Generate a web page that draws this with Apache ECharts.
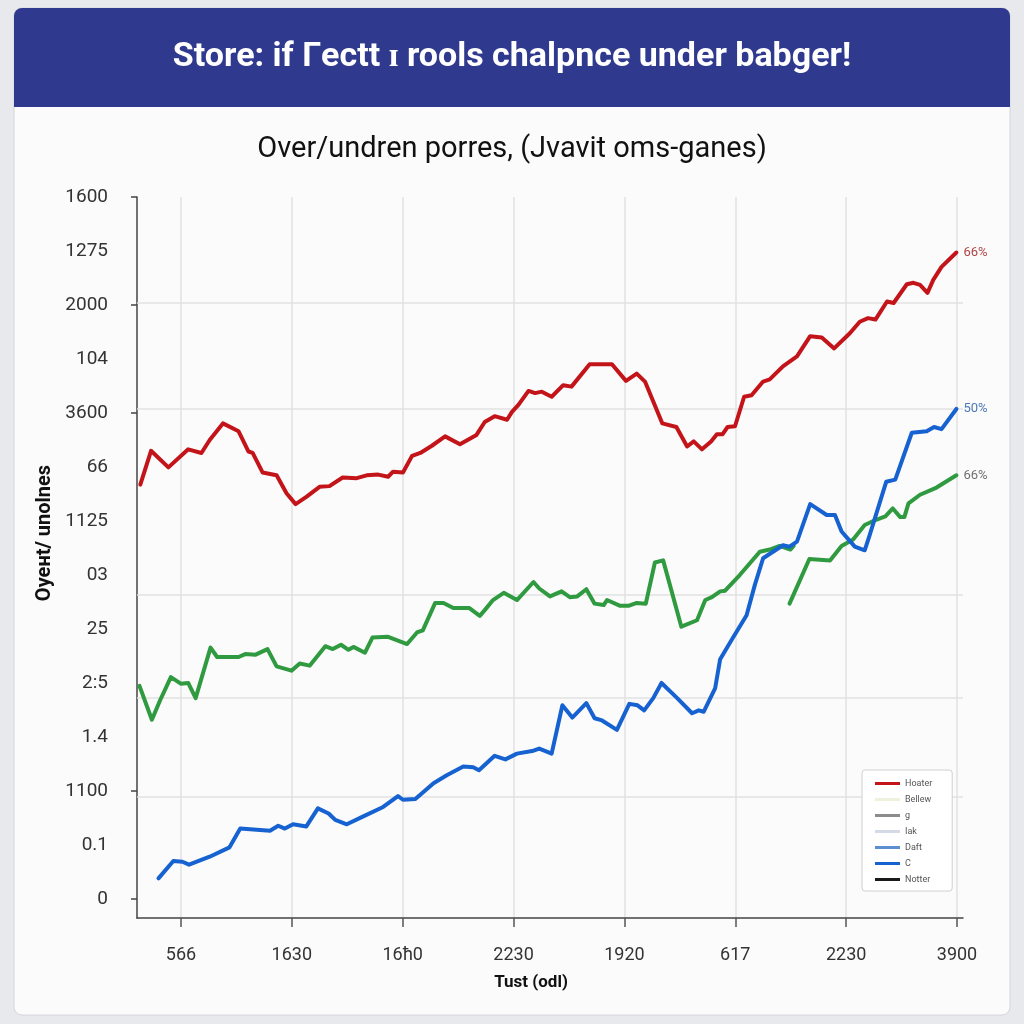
<!DOCTYPE html>
<html>
<head>
<meta charset="utf-8">
<script src="https://cdn.jsdelivr.net/npm/echarts@6/dist/echarts.min.js"></script>
<style>html,body{margin:0;padding:0;background:#e8e9ec;}#c{width:1024px;height:1024px;}</style>
</head>
<body>
<div id="c"></div>
<script>
const titleText = 'Store: if Гectt ɪ rools chalpnce under babger!';
const subtitleText = 'Over/undren porres, (Jvavit oms-ganes)';
const xAxisName = 'Tust (odl)';
const yAxisName = 'Oyeнt/ unolnes';
const xLabels = ['566','1630','16ħ0','2230','1920','617','2230','3900'];
const yLabels = ['0','0.1','1100','1.4','2:5','25','03','1125','66','3600','104','2000','1275','1600'];
const yTickShown = [0,2,9,11,13];
const gridValues = [85.4,70.6,44.8,30.5,16.8];
const legendNames = ['Hoater','Bellew','g','Iak','Daft','C','Notter'];
const endLabels = ['66%','50%','66%'];

const hoaterData = [[0.4,60.1],[1.7,64.8],[3.8,62.5],[6.2,65.0],[7.8,64.5],[8.8,66.3],[10.4,68.6],[12.3,67.5],[13.5,64.7],[14.0,64.5],[15.2,61.8],[16.9,61.4],[18.1,58.9],[19.2,57.4],[20.5,58.4],[22.1,59.8],[23.3,59.9],[24.9,61.1],[26.6,61.0],[27.8,61.4],[29.2,61.5],[30.4,61.2],[31.0,61.9],[32.2,61.8],[33.3,64.1],[34.3,64.5],[35.7,65.5],[37.3,66.8],[39.1,65.7],[41.1,67.0],[42.1,68.8],[43.3,69.6],[44.8,69.1],[45.4,70.2],[46.2,71.2],[47.4,73.1],[48.2,72.8],[49.0,73.0],[50.2,72.3],[51.6,73.9],[52.6,73.7],[54.8,76.8],[57.5,76.8],[59.2,74.5],[60.5,75.5],[61.5,74.4],[63.6,68.6],[65.3,68.1],[66.6,65.4],[67.4,66.1],[68.4,65.0],[69.5,66.1],[70.2,67.1],[70.9,67.1],[71.5,68.1],[72.4,68.2],[73.5,72.3],[74.4,72.5],[75.8,74.4],[76.6,74.7],[78.2,76.5],[79.9,77.9],[81.5,80.7],[82.9,80.5],[84.4,79.0],[86.3,81.1],[87.5,82.7],[88.5,83.2],[89.4,83.0],[90.8,85.5],[91.6,85.3],[93.2,87.9],[94.0,88.1],[94.8,87.8],[95.7,86.7],[96.4,88.5],[97.4,90.3],[99.2,92.3]];

const greenDataA = [[0.3,32.2],[1.8,27.5],[2.8,30.2],[4.1,33.4],[5.3,32.5],[6.2,32.6],[7.1,30.5],[8.9,37.5],[9.7,36.2],[12.3,36.2],[13.1,36.6],[14.3,36.5],[15.8,37.3],[16.9,34.9],[18.7,34.3],[19.7,35.3],[20.9,35.0],[22.8,37.7],[23.7,37.3],[24.7,37.9],[25.6,37.2],[26.2,37.6],[27.6,36.8],[28.5,38.9],[30.4,39.0],[32.7,38.0],[33.9,39.6],[34.6,39.9],[36.1,43.7],[37.1,43.7],[38.3,43.0],[40.2,43.0],[41.5,41.9],[42.1,42.7],[43.1,44.1],[44.4,45.1],[46.0,44.1],[48.0,46.6],[48.7,45.7],[50.0,44.6],[51.4,45.3],[52.4,44.5],[53.3,44.6],[54.4,45.6],[55.4,43.6],[56.5,43.4],[56.9,44.1],[58.5,43.3],[59.5,43.3],[60.5,43.7],[61.6,43.6],[62.7,49.3],[63.7,49.6],[65.9,40.4],[67.8,41.3],[68.8,44.1],[69.6,44.5],[70.6,45.3],[71.2,45.4],[73.0,47.6],[75.4,50.8],[76.6,51.1],[77.8,51.6],[79.1,51.1],[79.5,51.6]];

const greenDataB = [[79.0,43.6],[81.4,49.8],[83.9,49.6],[85.3,51.6],[86.7,52.5],[88.1,54.5],[89.4,55.2],[90.6,55.7],[91.5,56.8],[92.4,55.6],[92.9,55.6],[93.4,57.5],[94.8,58.7],[96.8,59.7],[99.2,61.4]];

const cData = [[2.6,5.5],[4.4,7.9],[5.5,7.8],[6.3,7.4],[8.8,8.5],[11.2,9.8],[12.5,12.4],[16.1,12.1],[17.1,12.8],[17.9,12.4],[18.9,13.0],[20.5,12.7],[21.9,15.2],[23.2,14.5],[24.0,13.6],[25.4,13.0],[27.4,14.1],[29.8,15.4],[31.6,16.9],[32.2,16.4],[33.7,16.5],[35.9,18.7],[37.5,19.8],[39.5,21.0],[40.7,20.9],[41.4,20.5],[43.3,22.5],[44.6,22.0],[46.0,22.8],[48.0,23.2],[48.7,23.5],[50.2,22.8],[51.5,29.5],[52.7,27.8],[54.4,29.8],[55.4,27.7],[56.3,27.4],[58.1,26.1],[59.6,29.7],[60.6,29.5],[61.4,28.8],[62.5,30.5],[63.5,32.6],[65.4,30.5],[67.2,28.4],[68.0,28.8],[68.6,28.6],[70.0,31.9],[70.6,35.9],[72.0,38.6],[73.8,42.0],[74.8,46.2],[75.8,49.9],[77.0,50.8],[78.2,51.7],[79.0,51.5],[79.9,52.2],[81.5,57.4],[83.5,55.9],[84.5,55.9],[85.3,53.6],[86.9,51.5],[88.1,51.0],[88.7,53.1],[90.7,60.5],[91.8,60.8],[93.8,67.3],[95.6,67.5],[96.5,68.1],[97.4,67.8],[99.2,70.6]];

const FONT = 'Roboto';
const chart = echarts.init(document.getElementById('c'), null, {renderer:'canvas'});

function lineSeries(name, data, color, extra) {
  return Object.assign({
    name: name, type: 'line', xAxisIndex: 0, yAxisIndex: 0, data: data,
    showSymbol: false, symbol: 'none', smooth: false, z: 3,
    color: color,
    itemStyle: {color: color},
    lineStyle: {color: color, width: 4, join: 'round', cap: 'round'}
  }, extra || {});
}

const option = {
  animation: false,
  backgroundColor: '#e8e9ec',
  graphic: {
    z: -10,
    elements: [
      {type:'rect', z:-10, shape:{x:14,y:8,width:996,height:1007,r:8}, style:{fill:'#fbfbfb', stroke:'#d4d6dc', lineWidth:1}},
      {type:'rect', z:-9, shape:{x:14,y:8,width:996,height:99,r:[8,8,0,0]}, style:{fill:'#2f3a8f'}},
      {type:'text', z:5, x:45, y:533, rotation:Math.PI/2, style:{text:yAxisName, font:'bold 20px Roboto', fill:'#111', align:'center', verticalAlign:'middle'}},
      {type:'text', z:5, x:531, y:983, style:{text:xAxisName, font:'bold 17px Roboto', fill:'#111', align:'center', verticalAlign:'middle'}}
    ]
  },
  title: [
    {text: titleText, left:'center', top:40, padding:0, textStyle:{color:'#ffffff', fontSize:34, fontWeight:'bold', fontFamily:FONT}},
    {text: subtitleText, left:'center', top:135, padding:0, textStyle:{color:'#111111', fontSize:29, fontWeight:'normal', fontFamily:FONT}}
  ],
  legend: {
    data: legendNames, orient:'vertical', left:862, top:770,
    icon:'rect', itemWidth:25, itemHeight:3, itemGap:5,
    padding:[8,20,6,13],
    backgroundColor:'#ffffff', borderColor:'#d0d0d0', borderWidth:1, borderRadius:3,
    textStyle:{fontSize:9, color:'#555', lineHeight:11, fontFamily:FONT},
    selectedMode:false
  },
  grid: [
    {left:137, right:61, top:197, bottom:106},
    {left:181, right:67, top:197, bottom:106},
    {left:137, right:61, top:197, bottom:125}
  ],
  xAxis: [
    {gridIndex:0, type:'value', min:0, max:100, axisLine:{show:true, onZero:false, lineStyle:{color:'#444', width:1.5}}, axisTick:{show:false}, axisLabel:{show:false}, splitLine:{show:false}},
    {gridIndex:1, type:'category', data:xLabels, boundaryGap:false, axisLine:{show:false},
      axisTick:{show:true, length:9, lineStyle:{color:'#555', width:1.5}},
      axisLabel:{show:true, interval:0, margin:28, fontSize:18, color:'#333', fontFamily:FONT},
      splitLine:{show:true, interval:0, lineStyle:{color:'#e2e2e2', width:1.5}}},
    {gridIndex:2, type:'value', show:false}
  ],
  yAxis: [
    {gridIndex:0, type:'value', min:0, max:100, axisLine:{show:true, lineStyle:{color:'#444', width:1.5}}, axisTick:{show:false}, axisLabel:{show:false}, splitLine:{show:false}},
    {gridIndex:1, type:'value', show:false},
    {gridIndex:2, type:'category', data:yLabels, boundaryGap:false, axisLine:{show:false},
      axisTick:{show:true, length:6, interval:function(i){return yTickShown.indexOf(i) >= 0;}, lineStyle:{color:'#444', width:1.5}},
      axisLabel:{show:true, interval:0, margin:29, fontSize:19, color:'#333', fontFamily:FONT},
      splitLine:{show:false}}
  ],
  series: [
    {name:'grid', type:'line', xAxisIndex:0, yAxisIndex:0, data:[], z:1, silent:true,
      markLine:{z:1, silent:true, symbol:['none','none'], label:{show:false}, emphasis:{disabled:true}, lineStyle:{color:'#e2e2e2', width:1.5, type:'solid'},
        data: gridValues.map(function(v){return {yAxis:v};})}},
    lineSeries('Hoater', hoaterData, '#c3141a', {endLabel:{show:true, formatter:endLabels[0], color:'#b04545', fontSize:13, fontFamily:FONT, distance:7}}),
    lineSeries('greenA', greenDataA, '#2f9a3f'),
    lineSeries('greenB', greenDataB, '#2f9a3f', {endLabel:{show:true, formatter:endLabels[2], color:'#707070', fontSize:13, fontFamily:FONT, distance:7}}),
    lineSeries('C', cData, '#1662d0', {endLabel:{show:true, formatter:endLabels[1], color:'#4a78b8', fontSize:13, fontFamily:FONT, distance:7}}),
    lineSeries('Bellew', [], '#eef2dc'),
    lineSeries('g', [], '#8c8c8c'),
    lineSeries('Iak', [], '#d5dbe6'),
    lineSeries('Daft', [], '#5b8fd0'),
    lineSeries('Notter', [], '#1a1a1a')
  ]
};
chart.setOption(option);
</script>
</body>
</html>
